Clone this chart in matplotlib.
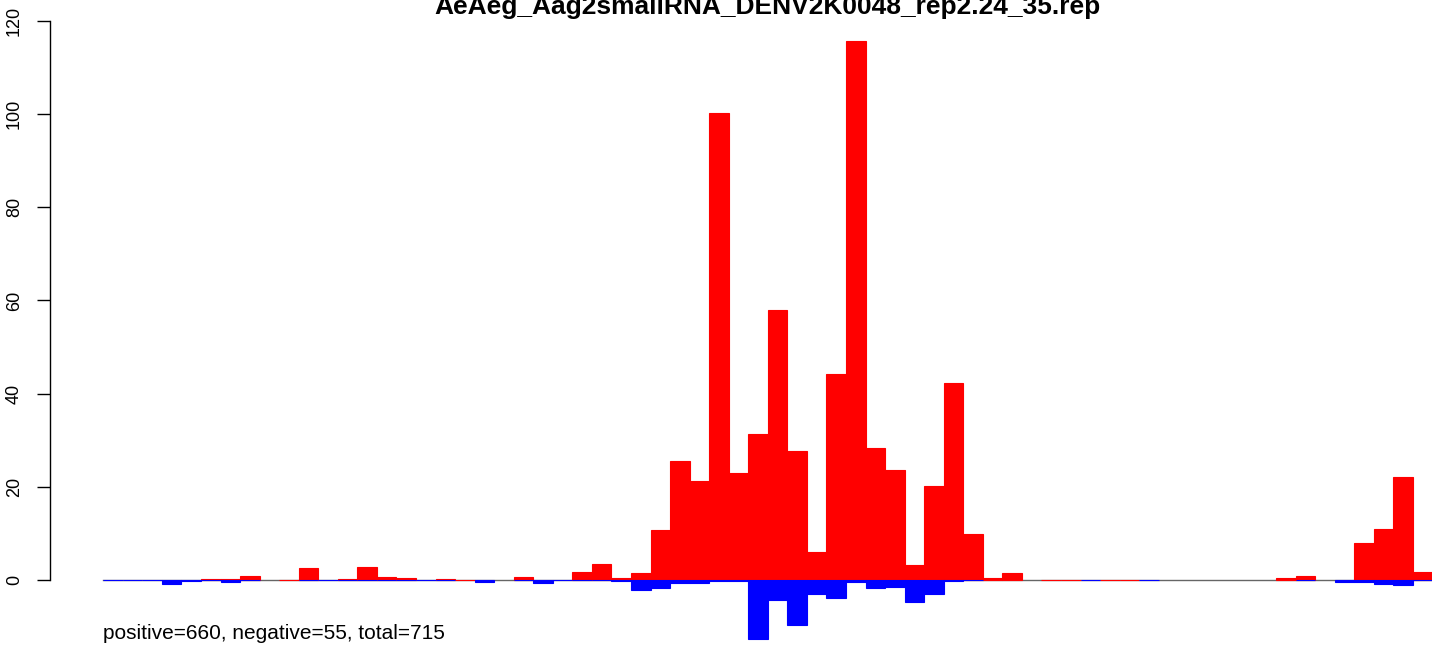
import numpy as np
import matplotlib
matplotlib.use("Agg")
import matplotlib.pyplot as plt

plt.rcParams['font.family'] = ['Liberation Sans', 'DejaVu Sans']

title = "AeAeg_Aag2smallRNA_DENV2K0048_rep2.24_35.rep"
summary = "positive=660, negative=55, total=715"

N = np.nan
# per-bin counts, sense (red) and antisense (blue); nan = no bar in that bin
pos = [N, N, N, N, N, 0.3, 0.3, 0.9, N, 0.0,
       2.6, N, 0.3, 2.8, 0.65, 0.45, N, 0.3, 0.0, N,
       N, 0.65, N, N, 1.7, 3.4, 0.4, 1.5, 10.7, 25.5,
       21.3, 100.3, 23.0, 31.3, 58.0, 27.7, 6.0, 44.2, 115.7, 28.3,
       23.6, 3.2, 20.2, 42.3, 9.9, 0.4, 1.5, N, 0.0, 0.0,
       N, 0.0, 0.0, N, N, N, N, N, N, N,
       0.4, 0.9, N, N, 8.0, 10.9, 22.1, 1.7]
neg = [0.0, 0.0, 0.0, -0.8, -0.2, 0.0, -0.4, 0.0, N, N,
       0.0, 0.0, 0.0, 0.0, 0.0, 0.0, 0.0, 0.0, N, -0.4,
       N, 0.0, -0.6, 0.0, 0.0, 0.0, -0.2, -2.1, -1.7, -0.6,
       -0.6, -0.3, -0.3, -12.7, -4.3, -9.7, -3.0, -3.9, -0.4, -1.7,
       -1.5, -4.7, -3.0, -0.2, 0.0, N, N, N, N, N,
       0.0, N, N, 0.0, N, N, N, N, N, N,
       N, 0.0, N, -0.4, -0.4, -0.9, -1.1, 0.0]

x = np.arange(len(pos))
pos = np.array(pos)
neg = np.array(neg)

fig = plt.figure(figsize=(14.44, 6.55), dpi=100)
ax = fig.add_axes([50 / 1444, 1 - 649.8 / 655, 1382.4 / 1444, 628.8 / 655])

ax.plot([0, len(pos)], [0, 0], color='#666666', lw=1, zorder=1)
m = ~np.isnan(pos)
ax.bar(x[m], pos[m], width=1, align='edge', color='#ff0000',
       edgecolor='#ff0000', lw=0.8, zorder=2)
m = ~np.isnan(neg)
ax.bar(x[m], neg[m], width=1, align='edge', color='#0000ff',
       edgecolor='#0000ff', lw=0.8, zorder=3)

ax.set_xlim(-(103.3 - 50) / 19.545, len(pos))
ax.set_ylim(-15, 120)
for s in ['top', 'right', 'bottom']:
    ax.spines[s].set_visible(False)
ax.spines['left'].set_bounds(0, 120)
ax.spines['left'].set_linewidth(1)
ax.set_xticks([])
ax.set_yticks(range(0, 121, 20))
ax.tick_params(axis='y', length=9.5, width=1, pad=10, labelsize=13)
for lab in ax.get_yticklabels():
    lab.set_rotation(90)
    lab.set_va('center')

fig.text(767 / 1444, 1 - 14 / 655, title, ha='center', va='baseline',
         fontsize=19, fontweight='bold')
fig.text(103 / 1444, 1 - 639 / 655, summary, ha='left', va='baseline',
         fontsize=15)

fig.savefig('out.png', dpi=100)
